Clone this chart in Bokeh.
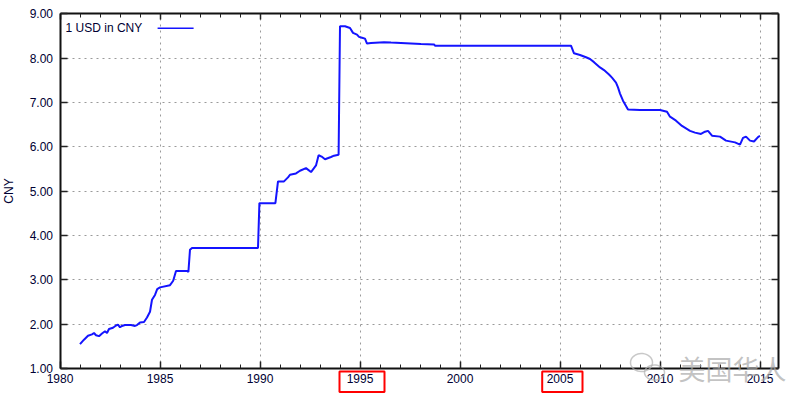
import numpy as np
from bokeh.plotting import figure
from bokeh.models import (Range1d, LinearAxis, SingleIntervalTicker, PrintfTickFormatter,
                          CustomJSTickFormatter, Label, BoxAnnotation, PolyAnnotation)
from bokeh.embed import file_html
from bokeh.resources import INLINE

# ---- data: 1 USD in CNY ----
years = [1981.0, 1981.2, 1981.4, 1981.6, 1981.7, 1981.8, 1981.95, 1982.1, 1982.25, 1982.35,
         1982.45, 1982.65, 1982.8, 1982.9, 1983.0, 1983.1, 1983.25, 1983.55, 1983.75, 1983.85,
         1984.0, 1984.2, 1984.35, 1984.5, 1984.6, 1984.75, 1984.86, 1985.0, 1985.5, 1985.66,
         1985.8, 1986.35, 1986.42, 1986.5, 1986.6, 1989.9, 1989.97, 1990.77, 1990.9, 1991.2,
         1991.4, 1991.5, 1991.8, 1992.0, 1992.3, 1992.55, 1992.8, 1992.93, 1993.08, 1993.25,
         1993.55, 1993.7, 1993.93, 1994.0, 1994.25, 1994.5, 1994.65, 1994.85, 1994.95, 1995.1,
         1995.25, 1995.35, 1995.55, 1996.2, 1996.55, 1998.05, 1998.7, 1998.75, 2005.55, 2005.7,
         2006.0, 2006.3, 2006.5, 2006.7, 2007.0, 2007.2, 2007.45, 2007.6, 2007.8, 2007.9,
         2008.0, 2008.15, 2008.4, 2009.0, 2010.0, 2010.35, 2010.5, 2010.8, 2011.1, 2011.5,
         2011.75, 2012.05, 2012.25, 2012.4, 2012.6, 2013.0, 2013.3, 2013.75, 2014.0, 2014.15,
         2014.3, 2014.5, 2014.7, 2014.9, 2015.0]
cny = [1.55, 1.65, 1.74, 1.77, 1.80, 1.75, 1.73, 1.79, 1.84, 1.80,
       1.89, 1.92, 1.97, 1.99, 1.93, 1.96, 1.98, 1.98, 1.96, 1.98,
       2.04, 2.05, 2.15, 2.28, 2.55, 2.66, 2.79, 2.83, 2.88, 2.98,
       3.20, 3.20, 3.18, 3.68, 3.72, 3.72, 4.73, 4.73, 5.22, 5.22,
       5.31, 5.37, 5.40, 5.46, 5.52, 5.43, 5.58, 5.81, 5.78, 5.72,
       5.77, 5.80, 5.82, 8.72, 8.72, 8.68, 8.57, 8.53, 8.48, 8.46,
       8.44, 8.33, 8.34, 8.36, 8.35, 8.32, 8.31, 8.28, 8.28, 8.11,
       8.07, 8.02, 7.98, 7.91, 7.79, 7.73, 7.63, 7.56, 7.45, 7.34,
       7.20, 7.04, 6.84, 6.83, 6.83, 6.79, 6.68, 6.59, 6.47, 6.36,
       6.32, 6.29, 6.34, 6.36, 6.25, 6.23, 6.14, 6.10, 6.05, 6.20,
       6.23, 6.14, 6.12, 6.22, 6.25]
series_name = "1 USD in CNY"
y_label = "CNY"
highlight_years = [1995, 2005]
watermark = "美国华人"

FONT = "Liberation Sans"
TXT = "#000033"
LINE = "#1414ff"
X0, X1 = 1980, 2015.9   # plotted year span
Y0, Y1 = 1, 9           # value span

# the frame covers the whole canvas; every axis is pinned at the edge of the value box
p = figure(width=812, height=410, x_range=Range1d(1977.025, 2017.625),
           y_range=Range1d(0.053, 9.3),
           output_backend="svg", toolbar_location=None,
           x_axis_location=None, y_axis_location=None,
           min_border_left=0, min_border_right=0, min_border_top=0, min_border_bottom=0)
p.outline_line_color = None
p.background_fill_color = "white"
p.border_fill_color = "white"

xt = SingleIntervalTicker(interval=5, num_minor_ticks=5)
yt = SingleIntervalTicker(interval=1, num_minor_ticks=0)
blank = CustomJSTickFormatter(code="return ''")


def style(ax, labels=True):
    ax.axis_line_width = 2
    ax.axis_line_color = "#111111"
    ax.major_tick_in = 7
    ax.major_tick_out = 0
    ax.minor_tick_in = 4
    ax.minor_tick_out = 0
    ax.major_tick_line_width = 1.5
    ax.minor_tick_line_width = 1
    ax.major_tick_line_color = "#222222"
    ax.minor_tick_line_color = "#222222"
    ax.major_label_text_font = FONT
    ax.major_label_text_font_size = "12px" if labels else "8px"
    ax.major_label_text_color = TXT
    ax.major_label_standoff = 6 if labels else 0


xb = LinearAxis(ticker=xt, fixed_location=Y0, bounds=(X0, X1))
style(xb)
xb.major_label_standoff = 5
p.add_layout(xb, "below")
xa = LinearAxis(ticker=xt, formatter=blank, fixed_location=Y1, bounds=(X0, X1))
style(xa, labels=False)
xa.major_tick_in = 6
p.add_layout(xa, "above")

yl = LinearAxis(ticker=yt, formatter=PrintfTickFormatter(format="%.2f"), axis_label=y_label,
                fixed_location=X0, bounds=(Y0, Y1))
style(yl)
yl.major_label_standoff = 7
yl.axis_label_text_font = FONT
yl.axis_label_text_font_size = "12px"
yl.axis_label_text_font_style = "normal"
yl.axis_label_text_color = TXT
yl.axis_label_standoff = 11
p.add_layout(yl, "left")
yr = LinearAxis(ticker=yt, formatter=blank, fixed_location=X1, bounds=(Y0, Y1))
style(yr, labels=False)
p.add_layout(yr, "right")

p.xgrid.ticker = xt
p.ygrid.ticker = yt
p.xgrid[0].bounds = (X0, X1)
p.ygrid[0].bounds = (Y0, Y1)
for g in (p.xgrid[0], p.ygrid[0]):
    g.grid_line_color = "#9a9a9a"
    g.grid_line_dash = "2 4"
    g.grid_line_width = 1
try:
    p.xgrid[0].cross_bounds = (Y0, Y1)
    p.ygrid[0].cross_bounds = (X0, X1)
except Exception:
    for kw in (dict(top=Y0), dict(bottom=Y1), dict(right=X0), dict(left=X1)):
        p.add_layout(BoxAnnotation(fill_color="white", fill_alpha=1, line_alpha=0,
                                   level="glyph", **kw))

p.line(years, cny, line_color=LINE, line_width=2)

# legend (text first, sample line to its right)
p.add_layout(Label(x=1980.28, y=8.68, text=series_name, text_font=FONT, text_font_size="12px",
                   text_color=TXT, text_baseline="middle"))
p.add_layout(BoxAnnotation(left=1984.88, right=1986.68, bottom=8.655, top=8.69,
                           fill_color=LINE, fill_alpha=1, line_alpha=0))

# red highlight boxes around two tick labels
for yr_h, (lo, hi) in zip(highlight_years, [(1.025, 1.225), (0.89, 1.125)]):
    p.add_layout(BoxAnnotation(left=yr_h - lo, right=yr_h + hi, bottom=0.47, top=0.93,
                               fill_alpha=0, line_color="red", line_alpha=1, line_width=2))

# watermark
p.add_layout(Label(x=2010.93, y=1.0, text=watermark, text_font="Noto Sans CJK SC",
                   text_font_size="27px", text_color="#a8a8a8", text_alpha=0.7,
                   text_baseline="middle"))


def px2d(x, y):
    return (x - 59.5) / 20 + 1980, 1 - (y - 368) / 44.34


t = np.linspace(0, 2 * np.pi, 40)
for cx, cy, rx, ry in [(641, 362, 11, 9), (654, 372, 10, 7.5)]:
    xs, ys = px2d(cx + rx * np.cos(t), cy + ry * np.sin(t))
    p.add_layout(PolyAnnotation(xs=list(xs), ys=list(ys), fill_alpha=0,
                                line_color="#b0b0b0", line_alpha=0.7, line_width=1.5))

open("out.html", "w").write(file_html(p, INLINE))
